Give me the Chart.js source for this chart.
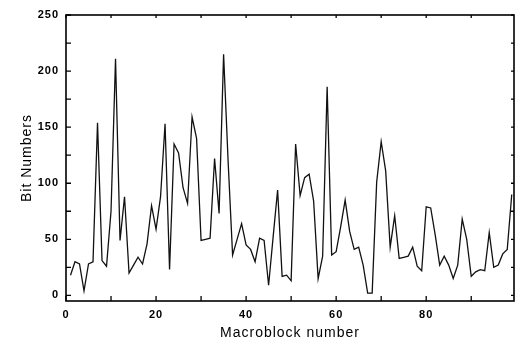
<!DOCTYPE html>
<html>
<head>
<meta charset="utf-8">
<script src="https://cdn.jsdelivr.net/npm/chart.js@4"></script>
<style>
  html, body { margin: 0; padding: 0; background: #fff; }
</style>
</head>
<body>
<canvas id="bitChart" width="515" height="342"></canvas>
<script>
// Macroblock index (1..99) and bits spent on each one
const macroblocks = [
  1, 2, 3, 4, 5, 6, 7, 8, 9, 10, 11, 12, 13, 14, 15, 16, 17, 18, 19, 20,
  21, 22, 23, 24, 25, 26, 27, 28, 29, 30, 31, 32, 33, 34, 35, 36, 37, 38, 39, 40,
  41, 42, 43, 44, 45, 46, 47, 48, 49, 50, 51, 52, 53, 54, 55, 56, 57, 58, 59, 60,
  61, 62, 63, 64, 65, 66, 67, 68, 69, 70, 71, 72, 73, 74, 75, 76, 77, 78, 79, 80,
  81, 82, 83, 84, 85, 86, 87, 88, 89, 90, 91, 92, 93, 94, 95, 96, 97, 98, 99,
];
const bitNumbers = [
  18, 30, 28, 4, 28, 30, 154, 31, 26, 75, 211, 49, 88, 20, 27, 34, 28, 46, 80, 59,
  88, 153, 23, 135, 127, 96, 82, 159, 140, 49, 50, 51, 122, 73, 215, 120, 36, 50, 64, 45,
  41, 30, 51, 49, 9, 52, 94, 17, 18, 13, 135, 89, 105, 108, 84, 15, 35, 186, 36, 39,
  61, 85, 57, 41, 43, 27, 2, 2, 101, 137, 111, 43, 71, 33, 34, 35, 43, 26, 22, 79,
  78, 54, 27, 35, 27, 15, 27, 68, 50, 17, 21, 23, 22, 56, 25, 27, 37, 41, 90,
];
// tick marks; only some of them carry a label
const xTicks = [0, 10, 20, 30, 40, 50, 60, 70, 80, 90];
const xLabels = ['0', '20', '40', '60', '80'];
const yTicks = [0, 25, 50, 75, 100, 125, 150, 175, 200, 225, 250];
const yLabels = ['0', '50', '100', '150', '200', '250'];

const points = macroblocks.map((m, i) => ({ x: m, y: bitNumbers[i] }));
const fontFamily = "'Liberation Sans', Arial, sans-serif";

// frame around the plot with short ticks pointing inward
const frameTicks = {
  id: 'frameTicks',
  beforeDraw(chart) {
    chart.ctx.letterSpacing = '1px';
  },
  afterDatasetsDraw(chart) {
    const { ctx, chartArea: a, scales: { x, y } } = chart;
    ctx.save();
    ctx.strokeStyle = '#000';
    ctx.lineWidth = 1.6;
    ctx.strokeRect(a.left, a.top, a.right - a.left, a.bottom - a.top);
    ctx.lineWidth = 1.3;
    ctx.beginPath();
    x.ticks.forEach((t) => {
      const px = x.getPixelForValue(t.value);
      ctx.moveTo(px, a.bottom);
      ctx.lineTo(px, a.bottom - 5);
      ctx.moveTo(px, a.top);
      ctx.lineTo(px, a.top + 3);
    });
    y.ticks.forEach((t) => {
      const py = y.getPixelForValue(t.value);
      ctx.moveTo(a.left, py);
      ctx.lineTo(a.left + 5, py);
      ctx.moveTo(a.right, py);
      ctx.lineTo(a.right - 3, py);
    });
    ctx.stroke();
    ctx.restore();
  },
};

new Chart(document.getElementById('bitChart'), {
  type: 'line',
  data: {
    datasets: [
      {
        data: points,
        borderColor: '#111',
        borderWidth: 1.3,
        pointRadius: 0,
        tension: 0,
        fill: false,
      },
    ],
  },
  options: {
    responsive: false,
    animation: false,
    layout: { padding: { top: 15, right: 1, left: 0, bottom: 0 } },
    plugins: { legend: { display: false }, tooltip: { enabled: false } },
    scales: {
      x: {
        type: 'linear',
        min: 0,
        max: 99.5,
        afterBuildTicks: (s) => { s.ticks = xTicks.map((v) => ({ value: v })); },
        afterFit: (s) => { s.height = 41; },
        grid: { display: false, drawTicks: false },
        border: { display: false },
        ticks: {
          autoSkip: false,
          maxRotation: 0,
          padding: 7,
          color: '#000',
          font: { family: fontFamily, size: 11, weight: 'bold' },
          callback: (v) => (xLabels.includes(String(v)) ? String(v) : ''),
        },
        title: {
          display: true,
          text: 'Macroblock number',
          color: '#000',
          padding: { top: 0, bottom: 0 },
          font: { family: fontFamily, size: 14 },
        },
      },
      y: {
        min: -5,
        max: 250,
        afterBuildTicks: (s) => { s.ticks = yTicks.map((v) => ({ value: v })); },
        afterFit: (s) => { s.width = 66; },
        grid: { display: false, drawTicks: false },
        border: { display: false },
        ticks: {
          autoSkip: false,
          padding: 7,
          color: '#000',
          font: { family: fontFamily, size: 11, weight: 'bold' },
          callback: (v) => (yLabels.includes(String(v)) ? String(v) : ''),
        },
        title: {
          display: true,
          text: 'Bit Numbers',
          color: '#000',
          padding: { top: 19, bottom: 0 },
          font: { family: fontFamily, size: 14 },
        },
      },
    },
  },
  plugins: [frameTicks],
});
</script>
</body>
</html>
